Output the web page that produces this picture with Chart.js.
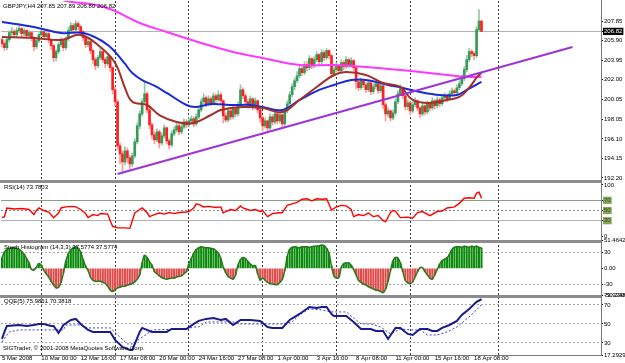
<!DOCTYPE html>
<html>
<head>
<meta charset="utf-8">
<script src="https://cdn.jsdelivr.net/npm/chart.js@4.4.0/dist/chart.umd.min.js"></script>
<style>
  html, body { margin: 0; padding: 0; background: #fff; }
  #wrap { position: relative; width: 625px; height: 363px; overflow: hidden; }
  #c { position: absolute; left: 0; top: 0; }
  .lbl { position: absolute; z-index: 2; font: 6px "Liberation Sans", Arial, sans-serif; line-height: 7px; color: #000; white-space: nowrap; }
</style>
</head>
<body>
<div id="wrap">
  <canvas id="c" width="625" height="363"></canvas>
  <div class="lbl" style="left:3px;top:3px">GBPJPY,H4 207.85 207.89 206.80 206.82</div>
  <div class="lbl" style="left:4px;top:184px">RSI(14) 73.7803</div>
  <div class="lbl" style="left:4px;top:244px">Stoch Histogram (14,3,3) 37.5774 37.5774</div>
  <div class="lbl" style="left:4px;top:298px">QQE(5) 75.9851 70.3818</div>
  <div class="lbl" style="left:3px;top:345px">SIGTrader, © 2001-2008 MetaQuotes Software Corp.</div>
</div>
<script>
// ---- x axis: one unit = one H4 bar ----
const dateTicks  = [0, 16, 32, 48, 64, 80, 96, 112, 128, 144, 160, 176, 192];
const dateLabels = ['5 Mar 2008', '10 Mar 00:00', '12 Mar 16:00', '17 Mar 08:00', '20 Mar 00:00',
  '24 Mar 16:00', '27 Mar 08:00', '1 Apr 00:00', '3 Apr 16:00', '8 Apr 08:00',
  '11 Apr 00:00', '15 Apr 16:00', '18 Apr 08:00'];
const weekTicks  = [16, 46, 76, 106, 136, 166, 202];

// ---- GBPJPY H4 candles ----
const priceOpen = [
  206.0, 205.6, 205.2, 206.0, 206.7, 206.8, 206.5, 206.9, 207.1, 206.6,
  206.9, 206.4, 206.7, 206.2, 205.3, 205.9, 206.5, 206.8, 206.3, 206.6,
  206.0, 205.4, 204.2, 204.8, 205.5, 205.9, 205.2, 206.1, 206.9, 207.4,
  207.0, 207.6, 207.3, 206.8, 206.2, 205.5, 205.8, 204.9, 204.0, 203.4,
  204.2, 204.8, 204.0, 203.6, 204.3, 203.2, 201.0, 199.8, 195.4, 194.6,
  193.8, 194.9, 194.2, 193.6, 194.4, 195.8, 197.4, 198.6, 199.8, 200.6,
  199.0, 197.5, 196.5, 196.0, 196.8, 195.7, 196.4, 197.2, 195.9, 195.5,
  196.6, 197.0, 197.4, 196.8, 197.3, 197.8, 197.5, 197.9, 198.1, 197.6,
  198.3, 199.0, 199.8, 200.2, 199.6, 200.1, 199.7, 200.4, 200.0, 200.5,
  199.9, 198.4, 198.0, 198.9, 198.3, 199.1, 198.6, 199.5, 201.0, 200.4,
  199.8, 199.5, 200.1, 199.3, 199.9, 199.0, 198.2, 197.4, 197.9, 197.2,
  198.3, 197.8, 198.6, 197.9, 198.5, 197.6, 198.9, 199.6, 200.5, 201.3,
  201.9, 202.4, 203.1, 202.7, 203.5, 203.2, 204.1, 203.4, 204.0, 204.5,
  203.8, 204.7, 204.2, 204.9, 204.4, 202.6, 203.0, 203.4, 202.9, 203.7,
  203.3, 204.0, 203.5, 203.9, 203.2, 201.8, 201.2, 201.9, 201.5, 201.0,
  201.7, 200.8, 201.3, 201.6, 200.9, 201.4, 199.5, 198.6, 198.9, 198.2,
  198.7, 199.8, 200.6, 201.1, 200.4, 199.3, 199.7, 198.9, 199.5, 199.9,
  199.2, 198.6, 199.4, 198.8, 199.6, 199.2, 199.9, 199.4, 200.0, 199.6,
  200.2, 200.4, 200.0, 200.6, 200.9, 200.7, 201.2, 201.6, 202.1, 203.0,
  204.0, 204.8, 204.6, 204.4, 207.0, 207.85
];
const priceHigh = [
  206.2, 205.8, 206.2, 206.9, 207.2, 207.0, 207.2, 207.4, 207.2, 207.1,
  207.0, 206.9, 206.8, 206.3, 206.1, 206.7, 207.1, 206.9, 206.9, 206.7,
  206.1, 205.5, 205.0, 205.7, 206.2, 206.0, 206.3, 207.2, 207.7, 207.6,
  207.9, 207.8, 207.4, 206.9, 206.3, 206.1, 205.9, 205.0, 204.2, 204.4,
  205.1, 204.9, 204.2, 204.6, 204.4, 203.3, 201.3, 200.0, 195.7, 194.9,
  195.3, 195.2, 194.4, 194.7, 196.1, 197.7, 198.9, 200.1, 201.8, 200.8,
  199.2, 197.7, 196.8, 197.1, 197.0, 196.7, 197.5, 197.3, 196.1, 196.9,
  197.3, 197.7, 197.6, 197.6, 198.1, 198.0, 198.2, 198.4, 198.3, 198.6,
  199.3, 200.1, 200.6, 200.4, 200.4, 200.3, 200.7, 200.6, 200.9, 200.7,
  200.0, 198.7, 199.2, 199.1, 199.4, 199.3, 199.8, 201.5, 201.2, 200.6,
  200.1, 200.4, 200.2, 200.2, 200.0, 199.1, 198.4, 198.2, 198.0, 198.6,
  198.5, 198.9, 198.7, 198.8, 198.6, 199.2, 199.9, 200.8, 201.6, 202.2,
  202.8, 203.4, 203.3, 203.8, 203.8, 204.4, 204.2, 204.3, 204.8, 204.6,
  205.0, 204.9, 205.1, 205.0, 204.5, 203.3, 203.7, 203.5, 204.0, 203.9,
  204.3, 204.1, 204.2, 204.0, 203.3, 202.0, 202.2, 202.1, 201.7, 202.0,
  201.8, 201.6, 202.0, 201.7, 201.7, 201.5, 199.7, 199.2, 199.0, 199.0,
  200.1, 200.9, 201.5, 201.3, 200.5, 200.0, 199.8, 199.8, 200.2, 200.0,
  199.3, 199.7, 199.5, 199.9, 199.8, 200.2, 200.0, 200.3, 200.2, 200.5,
  200.7, 200.6, 200.9, 201.2, 201.1, 201.5, 201.9, 202.5, 203.3, 204.4,
  205.1, 205.0, 204.8, 207.3, 209.0, 207.89
];
const priceLow = [
  205.3, 204.9, 205.0, 205.8, 206.4, 206.2, 206.3, 206.7, 206.3, 206.4,
  206.1, 206.2, 205.9, 204.9, 205.1, 205.7, 206.3, 206.0, 206.1, 205.7,
  205.0, 203.8, 203.9, 204.6, 205.3, 204.9, 205.0, 205.9, 206.7, 206.7,
  206.8, 207.0, 206.5, 205.9, 205.2, 205.3, 204.6, 203.6, 203.0, 203.2,
  204.0, 203.7, 203.2, 203.4, 202.8, 200.6, 199.4, 195.0, 193.6, 192.7,
  193.5, 193.7, 193.0, 193.3, 194.2, 195.6, 197.1, 198.4, 199.5, 198.7,
  197.1, 196.1, 195.6, 195.8, 195.2, 195.5, 196.2, 195.6, 195.1, 195.3,
  196.4, 196.8, 196.5, 196.6, 197.1, 197.2, 197.3, 197.7, 197.3, 197.4,
  198.1, 198.8, 199.6, 199.3, 199.4, 199.4, 199.5, 199.7, 199.8, 199.6,
  197.7, 197.8, 197.8, 198.0, 198.1, 198.3, 198.4, 199.3, 200.1, 199.5,
  199.2, 199.3, 199.0, 199.1, 198.7, 197.8, 196.9, 197.2, 196.9, 197.0,
  197.5, 197.6, 197.6, 197.7, 197.3, 197.4, 198.7, 199.4, 200.3, 201.0,
  201.7, 202.2, 202.4, 202.5, 202.9, 203.0, 203.1, 203.2, 203.8, 203.5,
  203.6, 203.9, 204.0, 204.1, 202.2, 202.3, 202.8, 202.6, 202.7, 203.0,
  203.1, 203.2, 203.3, 202.9, 201.1, 200.9, 201.0, 201.2, 200.7, 200.8,
  200.5, 200.6, 201.1, 200.6, 200.7, 199.1, 197.9, 198.3, 197.9, 198.0,
  198.5, 199.6, 200.4, 200.1, 199.0, 199.0, 198.5, 198.7, 199.3, 198.9,
  198.2, 198.4, 198.5, 198.6, 198.9, 199.0, 199.1, 199.2, 199.3, 199.4,
  200.0, 199.8, 199.9, 200.4, 200.4, 200.5, 201.0, 201.4, 201.9, 202.8,
  203.8, 204.3, 204.0, 204.2, 206.8, 206.80
];
const priceClose = [
  205.6, 205.2, 206.0, 206.7, 206.8, 206.5, 206.9, 207.1, 206.6, 206.9,
  206.4, 206.7, 206.2, 205.3, 205.9, 206.5, 206.8, 206.3, 206.6, 206.0,
  205.4, 204.2, 204.8, 205.5, 205.9, 205.2, 206.1, 206.9, 207.4, 207.0,
  207.6, 207.3, 206.8, 206.2, 205.5, 205.8, 204.9, 204.0, 203.4, 204.2,
  204.8, 204.0, 203.6, 204.3, 203.2, 201.0, 199.8, 195.4, 194.6, 193.8,
  194.9, 194.2, 193.6, 194.4, 195.8, 197.4, 198.6, 199.8, 200.6, 199.0,
  197.5, 196.5, 196.0, 196.8, 195.7, 196.4, 197.2, 195.9, 195.5, 196.6,
  197.0, 197.4, 196.8, 197.3, 197.8, 197.5, 197.9, 198.1, 197.6, 198.3,
  199.0, 199.8, 200.2, 199.6, 200.1, 199.7, 200.4, 200.0, 200.5, 199.9,
  198.4, 198.0, 198.9, 198.3, 199.1, 198.6, 199.5, 201.0, 200.4, 199.8,
  199.5, 200.1, 199.3, 199.9, 199.0, 198.2, 197.4, 197.9, 197.2, 198.3,
  197.8, 198.6, 197.9, 198.5, 197.6, 198.9, 199.6, 200.5, 201.3, 201.9,
  202.4, 203.1, 202.7, 203.5, 203.2, 204.1, 203.4, 204.0, 204.5, 203.8,
  204.7, 204.2, 204.9, 204.4, 202.6, 203.0, 203.4, 202.9, 203.7, 203.3,
  204.0, 203.5, 203.9, 203.2, 201.8, 201.2, 201.9, 201.5, 201.0, 201.7,
  200.8, 201.3, 201.6, 200.9, 201.4, 199.5, 198.6, 198.9, 198.2, 198.7,
  199.8, 200.6, 201.1, 200.4, 199.3, 199.7, 198.9, 199.5, 199.9, 199.2,
  198.6, 199.4, 198.8, 199.6, 199.2, 199.9, 199.4, 200.0, 199.6, 200.2,
  200.4, 200.0, 200.6, 200.9, 200.7, 201.2, 201.6, 202.1, 203.0, 204.0,
  204.8, 204.6, 204.4, 207.0, 207.85, 206.82
];
const priceTicks = [207.85, 206.82, 205.90, 203.95, 202.00, 200.05, 198.05, 196.10, 194.15, 192.20];
const lastPrice = 206.82;

// ---- moving averages (sampled at bar positions) ----
const maFastIdx = [0, 13, 24, 32, 40, 46, 50, 53, 59, 64, 71, 78, 85, 89, 98, 106, 114, 121, 128, 135, 140, 148, 155, 162, 167, 174, 181, 186, 190, 193, 195];
const maFast    = [206.26, 206.16, 205.96, 206.46, 205.26, 203.67, 201.2, 199.8, 199.48, 198.48, 197.79, 197.69, 198.48, 198.98, 199.28, 199.18, 198.78, 199.98, 201.28, 202.47, 202.77, 202.47, 201.67, 201.28, 199.98, 199.68, 199.98, 200.28, 201.2, 202.2, 202.7];
const maSlowIdx = [0, 13, 24, 33, 40, 44, 46, 50, 53, 57, 62, 67, 75, 79, 85, 94, 101, 106, 114, 121, 129, 135, 142, 148, 157, 163, 170, 178, 185, 189, 195];
const maSlow    = [207.76, 207.26, 206.66, 206.66, 205.96, 205.26, 204.77, 203.6, 202.67, 201.97, 201.4, 200.68, 199.48, 199.28, 199.58, 199.48, 199.48, 199.28, 198.98, 199.98, 200.98, 201.48, 201.97, 201.97, 201.48, 201.18, 200.78, 200.48, 200.48, 200.98, 201.78];
const maLongIdx = [20, 26, 37, 45, 56, 67, 81, 94, 106, 121, 135, 148, 162, 170, 181, 189, 195];
const maLong    = [210.3, 209.85, 209.5, 208.95, 207.66, 206.76, 205.66, 204.77, 204.17, 203.47, 203.47, 203.27, 202.97, 202.77, 202.47, 202.27, 202.3];
const trendIdx  = [47, 232];
const trendVals = [192.6, 205.26];

// ---- RSI(14) ----
const rsiIdx = [0, 1, 2, 5, 8, 11, 13, 14, 15, 17, 19, 21, 23, 24, 26, 28, 30, 32, 34, 35, 37, 39, 40, 43, 44, 45, 47, 50, 52, 53,
  54, 56, 57, 59, 60, 62, 64, 66, 68, 70, 72, 75, 76, 78, 79, 80, 82, 84, 87, 89, 90, 91, 93, 95, 97, 98, 101, 103, 105, 106,
  108, 110, 112, 114, 116, 118, 120, 122, 124, 126, 128, 130, 132, 134, 136, 138, 140, 142, 143, 145, 147, 149, 151, 153, 155, 156,
  158, 159, 160, 162, 165, 167, 169, 171, 174, 177, 179, 181, 184, 186, 188, 190, 192, 193, 194, 195];
const rsiVals = [36, 38, 55, 53, 54, 52, 42, 50, 55, 50, 47, 36, 45, 55, 57, 58, 57, 52, 44, 36, 42, 40, 44, 43, 30, 19, 16, 16, 15, 30,
  45, 52, 55, 46, 38, 42, 45, 43, 46, 44, 46, 47, 48, 55, 63, 62, 57, 58, 56, 57, 45, 48, 52, 50, 59, 55, 50, 52, 48, 50,
  38, 44, 45, 46, 60, 63, 66, 72, 73, 69, 73, 72, 73, 51, 57, 60, 59, 52, 38, 42, 40, 45, 38, 40, 30, 28,
  46, 50, 49, 36, 37, 35, 46, 48, 40, 48, 49, 55, 57, 64, 74, 75, 74, 84, 86, 73.8];
const rsiTicks = [100, 70, 50, 30, 0];

// ---- Stoch histogram (14,3,3), one value per bar ----
const stochVals = [
  20, 30, 35, 37, 38, 38, 37, 35, 31, 26,
  18, 10, -2, -3, 2, 9, 6, -4, -10, -16,
  -24, -31, -36, -35, -26, -8, 14, 27, 34, 38,
  40, 37, 30, 16, 4, -4, -16, -22, -24, -24,
  -24, -26, -28, -33, -40, -43, -40, -36, -35, -33,
  -33, -31, -30, -28, -25, -20, -12, 10, 24, 20,
  12, 6, -6, -10, -14, -17, -19, -20, -19, -18,
  -18, -16, -15, -14, -10, -6, 8, 18, 28, 35,
  38, 40, 39, 38, 38, 37, 36, 33, 28, 18,
  2, -8, -15, -18, -20, -12, 6, 16, 20, 18,
  13, 8, 5, 5, -10, -22, -18, -22, -26, -28,
  -29, -30, -30, -26, -20, -4, 22, 35, 39, 40,
  39, 38, 40, 40, 40, 39, 40, 41, 41, 42,
  43, 42, 37, 28, 4, -14, -18, -17, 2, 9,
  10, 10, 6, -2, -12, -22, -26, -29, -31, -34,
  -36, -38, -40, -41, -43, -45, -38, -24, -4, 14,
  20, 19, 10, -6, -22, -27, -28, -25, -16, -6,
  1, 1, -6, -12, -18, -20, -12, -2, 8, 14,
  17, 20, 26, 35, 39, 40, 40, 39, 41, 40,
  39, 41, 40, 41, 39, 37.5774
];
const stochTicks  = [51.4642, 30, 0, -30, -50.2304];
const stochLabels = ['51.4642', '30', '0.00', '-30', '-50.2304'];

// ---- QQE(5) ----
const qqeMainIdx = [0, 1, 2, 7, 10, 13, 15, 17, 20, 21, 23, 25, 28, 30, 32, 35, 37, 44, 46, 49, 52, 53, 56, 57, 61, 67, 69, 75, 78, 80,
  83, 86, 89, 91, 94, 97, 101, 105, 108, 110, 114, 117, 121, 125, 128, 130, 132, 134, 135, 140, 143, 146, 150, 152, 155, 157, 160, 162, 165, 167,
  170, 173, 175, 177, 179, 182, 185, 187, 190, 193, 195];
const qqeMain = [34.2, 41.6, 47.9, 48.9, 47.9, 48.9, 50, 50, 47.9, 47.9, 40.5, 48.9, 54.2, 55.3, 50, 43.7, 41.6, 41.6, 33.2, 25.8, 22.6, 22.6, 41.6, 45.8, 41.6, 41.6, 44.7, 44.7, 50, 53.2,
  55.3, 56.3, 54.2, 55.3, 48.9, 54.2, 54.2, 53.2, 46.8, 45.8, 45.8, 54.2, 60.5, 67.9, 66.8, 67.9, 67.9, 60.5, 58.4, 58.4, 52.1, 44.7, 44.7, 42.6, 42.6, 34.2, 45.8, 45.8, 39.5, 38.4,
  44.7, 44.7, 42.6, 42.6, 45.8, 48.9, 53.2, 59.5, 65.8, 73.2, 75.9851];
const qqeSigIdx = [0, 2, 3, 7, 21, 25, 26, 32, 35, 44, 47, 51, 53, 56, 59, 61, 75, 78, 80, 83, 94, 97, 108, 114, 118, 121, 125, 130, 134, 140,
  146, 150, 154, 158, 162, 166, 170, 173, 177, 181, 185, 189, 193, 195];
const qqeSig = [31, 38.4, 41.6, 43.7, 43.7, 43.7, 48.9, 48.9, 45.8, 45.8, 38.4, 29, 29, 34.2, 39.5, 43.7, 44.7, 46.8, 46.8, 52.1, 52.1, 50, 50, 50, 52.1, 59.5, 65.8, 64.7, 62.6, 62.6,
  50, 50, 46.8, 39.5, 44.7, 43.7, 43.7, 38.4, 38.4, 41.6, 46.8, 55.3, 64.7, 70.3818];
const qqeTicks  = [79.9348, 70, 50, 30, 17.2929];
const qqeLabels = ['79.9348', '70', '50', '30', '17.2929'];

// ---- helpers ----
const pts = (idx, vals) => idx.map((x, k) => ({ x, y: vals[k] }));
const setTicks = vals => scale => { scale.ticks = vals.map(v => ({ value: v })); };
const fitRight = s => { s.width = 24; s.paddingTop = 0; s.paddingBottom = 0; };
const tickIs = (c, list) => c.tick && list.includes(c.tick.value);

const BULL = '#379a58', BEAR = '#ff1f1f';
const BULL_WICK = '#8fcaa2', BEAR_WICK = '#ff9a9a';
const isBull = i => priceClose[i] >= priceOpen[i];

// pane separators + right/bottom frame
const paneFrame = {
  id: 'paneFrame',
  afterDraw(chart) {
    const { ctx, chartArea: a, scales } = chart;
    ctx.save();
    ctx.fillStyle = '#8c8c8c';
    ['yr', 'ys', 'yq'].forEach(id => {
      const t = Math.round(scales[id].top);
      ctx.fillRect(0, t - 1, a.right + 1, 3);
    });
    ctx.fillStyle = '#7a7a7a';
    ctx.fillRect(0, Math.round(a.bottom), a.right + 1, 1);
    ctx.fillRect(Math.round(a.right), 0, 1, a.bottom + 1);
    ctx.restore();
  }
};

Chart.defaults.font.family = '"Liberation Sans", Arial, sans-serif';
Chart.defaults.font.size = 6;
Chart.defaults.color = '#000';

const smallTicks = { font: { size: 6 }, padding: 1, color: '#000', autoSkip: false };

new Chart(document.getElementById('c'), {
  type: 'bar',
  data: {
    datasets: [
      { label: 'wick', yAxisID: 'yp', order: 9, grouped: false, barThickness: 1,
        data: priceClose.map((c, i) => ({ x: i, y: [priceLow[i], priceHigh[i]] })),
        backgroundColor: priceClose.map((c, i) => isBull(i) ? BULL_WICK : BEAR_WICK) },
      { label: 'body', yAxisID: 'yp', order: 8, grouped: false, barThickness: 2,
        data: priceClose.map((c, i) => ({ x: i, y: [priceOpen[i], c] })),
        backgroundColor: priceClose.map((c, i) => isBull(i) ? BULL : BEAR) },
      { type: 'line', label: 'MA long', yAxisID: 'yp', order: 5, data: pts(maLongIdx, maLong),
        borderColor: '#ff38ff', borderWidth: 2, pointRadius: 0, tension: 0.4 },
      { type: 'line', label: 'MA slow', yAxisID: 'yp', order: 4, data: pts(maSlowIdx, maSlow),
        borderColor: '#1b2ad8', borderWidth: 2, pointRadius: 0, tension: 0.4 },
      { type: 'line', label: 'MA fast', yAxisID: 'yp', order: 3, data: pts(maFastIdx, maFast),
        borderColor: '#a3302b', borderWidth: 2, pointRadius: 0, tension: 0.4 },
      { type: 'line', label: 'trend', yAxisID: 'yp', order: 2, data: pts(trendIdx, trendVals),
        borderColor: '#9d33d8', borderWidth: 2, pointRadius: 0 },
      { type: 'line', label: 'RSI', yAxisID: 'yr', order: 2, data: pts(rsiIdx, rsiVals),
        borderColor: '#ff0000', borderWidth: 1.4, pointRadius: 0 },
      { label: 'Stoch', yAxisID: 'ys', order: 7, grouped: false, barThickness: 1.4,
        data: stochVals.map((v, i) => ({ x: i, y: v })),
        backgroundColor: stochVals.map(v => v >= 0 ? '#0a8a0a' : '#e04a4a') },
      { type: 'line', label: 'Stoch line', yAxisID: 'ys', order: 2, data: stochVals.map((v, i) => ({ x: i, y: v })),
        borderColor: '#267a1e', borderWidth: 1.5, pointRadius: 0, tension: 0.3 },
      { type: 'line', label: 'QQE signal', yAxisID: 'yq', order: 3, data: pts(qqeSigIdx, qqeSig),
        borderColor: '#3b3be2', borderWidth: 1, borderDash: [2, 2], pointRadius: 0 },
      { type: 'line', label: 'QQE', yAxisID: 'yq', order: 2, data: pts(qqeMainIdx, qqeMain),
        borderColor: '#1b1b8e', borderWidth: 2, pointRadius: 0 }
    ]
  },
  options: {
    responsive: false,
    animation: false,
    events: [],
    devicePixelRatio: 1,
    layout: { padding: { top: 1, left: 1, right: 0, bottom: 0 } },
    plugins: { legend: { display: false }, tooltip: { enabled: false } },
    scales: {
      x: {
        type: 'linear', position: 'bottom', min: -0.4, max: 243.6, offset: false,
        grid: { display: false, drawTicks: false, offset: false },
        border: { display: false },
        afterBuildTicks: setTicks(dateTicks),
        afterFit: s => { s.height = 8; s.paddingLeft = 0; s.paddingRight = 0; },
        ticks: { ...smallTicks, padding: 0, align: 'start', maxRotation: 0, minRotation: 0,
          callback: (v, i) => dateLabels[i] }
      },
      xg: {
        type: 'linear', position: 'bottom', min: -0.4, max: 243.6, offset: false,
        grid: { color: '#3c3c3c', drawTicks: false, offset: false },
        border: { display: false, dash: [2, 2] },
        afterBuildTicks: setTicks(weekTicks),
        afterFit: s => { s.height = 0; },
        ticks: { display: false }
      },
      yp: {
        type: 'linear', position: 'right', stack: 'panes', stackWeight: 179.5,
        min: 191.95, max: 209.85,
        afterBuildTicks: setTicks(priceTicks), afterFit: fitRight,
        grid: { tickLength: 2, tickColor: '#000',
          color: c => tickIs(c, [lastPrice]) ? '#b4b4b4' : 'rgba(0,0,0,0)' },
        border: { display: true, color: '#7a7a7a' },
        ticks: { ...smallTicks, callback: v => v.toFixed(2),
          color: c => tickIs(c, [lastPrice]) ? '#fff' : '#000',
          showLabelBackdrop: c => !!tickIs(c, [lastPrice]),
          backdropColor: '#000', backdropPadding: { left: 1, right: 1, top: 0, bottom: 0 } }
      },
      yr: {
        type: 'linear', position: 'right', stack: 'panes', stackWeight: 60,
        min: -8.8, max: 108.8,
        afterBuildTicks: setTicks(rsiTicks), afterFit: fitRight,
        grid: { tickLength: 2, tickColor: '#000',
          color: c => tickIs(c, [70]) ? '#8aa07a' : tickIs(c, [50]) ? '#8a8a8a' : tickIs(c, [30]) ? '#b0b0b0' : 'rgba(0,0,0,0)' },
        border: { display: true, color: '#7a7a7a', dash: c => tickIs(c, [50]) ? [2, 2] : [] },
        ticks: { ...smallTicks, callback: v => String(v),
          color: c => tickIs(c, [70, 50, 30]) ? '#2f4f12' : '#000',
          showLabelBackdrop: c => !!tickIs(c, [70, 50, 30]),
          backdropColor: '#86a35a', backdropPadding: { left: 1, right: 1, top: 0, bottom: 0 } }
      },
      ys: {
        type: 'linear', position: 'right', stack: 'panes', stackWeight: 55,
        min: -50.2304, max: 51.4642,
        afterBuildTicks: setTicks(stochTicks), afterFit: fitRight,
        grid: { tickLength: 2, tickColor: '#000',
          color: c => tickIs(c, [30, -30]) ? '#a8a8a8' : 'rgba(0,0,0,0)' },
        border: { display: true, color: '#7a7a7a', dash: [2, 2] },
        ticks: { ...smallTicks, callback: (v, i) => stochLabels[i] }
      },
      yq: {
        type: 'linear', position: 'right', stack: 'panes', stackWeight: 59.5,
        min: 17.2929, max: 79.9348,
        afterBuildTicks: setTicks(qqeTicks), afterFit: fitRight,
        grid: { tickLength: 2, tickColor: '#000',
          color: c => tickIs(c, [70, 50, 30]) ? '#a8a8a8' : 'rgba(0,0,0,0)' },
        border: { display: true, color: '#7a7a7a', dash: [2, 2] },
        ticks: { ...smallTicks, callback: (v, i) => qqeLabels[i] }
      }
    }
  },
  plugins: [paneFrame]
});
</script>
</body>
</html>
